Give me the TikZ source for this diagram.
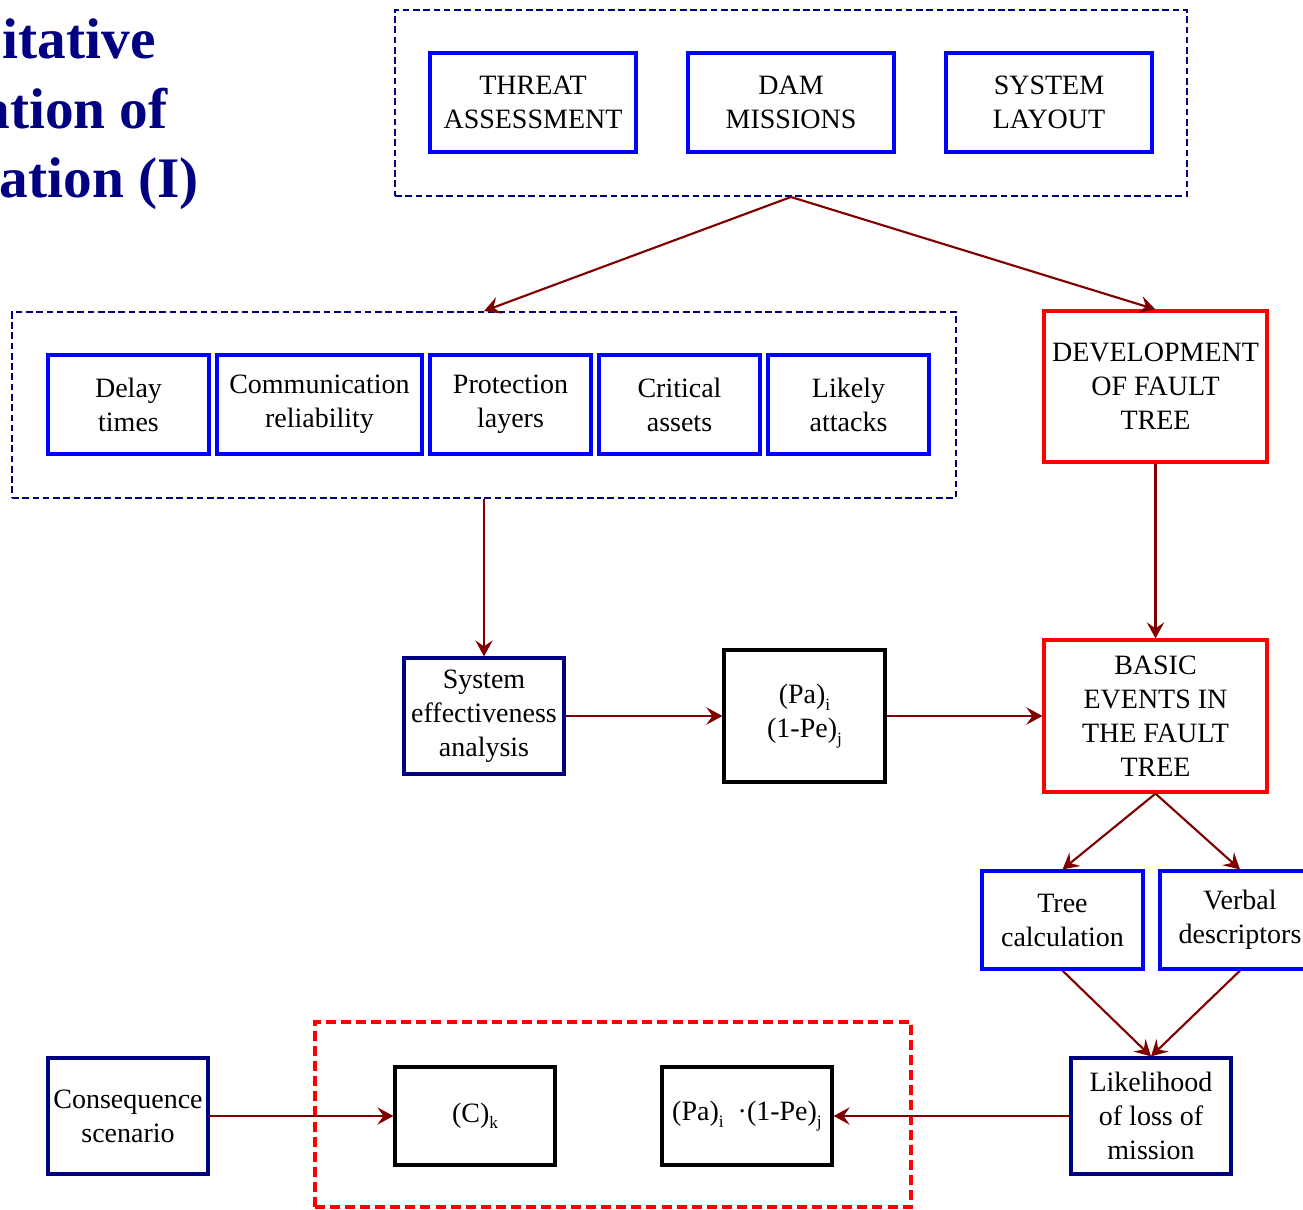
\documentclass[tikz,border=0pt]{standalone}
\usepackage{fontspec}
\setmainfont{Liberation Serif}
\usetikzlibrary{arrows.meta,fit}

\definecolor{navy}{RGB}{0,0,128}
\definecolor{boxblue}{RGB}{0,0,255}
\definecolor{boxred}{RGB}{255,0,0}
\definecolor{flowred}{RGB}{128,0,0}

% small lowered index after a bracket
\newcommand\idx[1]{\raisebox{-0.5ex}{\fontsize{13}{13}\selectfont #1}}

\tikzset{
  boxtext/.style={inner sep=0pt, align=center, font=\fontsize{21}{25.5}\selectfont},
  box/.style={inner sep=0pt, line width=2.4pt},
  bluebox/.style={box, draw=boxblue},
  navybox/.style={box, draw=navy},
  redbox/.style={box, draw=boxred},
  blackbox/.style={box, draw=black},
  txt/.style={label={[boxtext]center:{#1}}},
  navygroup/.style={inner sep=0pt, draw=navy, line width=1.5pt, dash pattern=on 5pt off 2.7pt},
  redgroup/.style={inner sep=0pt, draw=boxred, line width=2.5pt, dash pattern=on 7.5pt off 3.8pt},
  flow/.style={draw=flowred, line width=1.6pt, -{Stealth[length=12pt, width=13pt, inset=4.5pt]}},
  titletext/.style={inner sep=0pt, anchor=base east, text=navy, font=\fontsize{43}{50}\selectfont\bfseries}
}

\begin{document}
\begin{tikzpicture}[x=0.75pt, y=-0.75pt]
  \useasboundingbox (0,0) rectangle (1303,1210);
  \clip (0,0) rectangle (1303,1210);

  % heading, running off the left edge
  \node[titletext] (t1) at (156,58) {itative};
  \node[titletext] (t2) at (168,128) {ation of};
  \node[titletext] (t3) at (199,197) {ation (I)};

  % input group
  \node[navygroup, fit={(395,10) (1187,196)}] (topgrp) {};
  \node[bluebox, fit={(430,53) (636,152)}, txt={THREAT\\ASSESSMENT}] (threat) {};
  \node[bluebox, fit={(688,53) (894,152)}, txt={DAM\\MISSIONS}] (dam) {};
  \node[bluebox, fit={(946,53) (1152,152)}, txt={SYSTEM\\LAYOUT}] (layout) {};

  % security factors group
  \node[navygroup, fit={(12,312) (956,498)}] (midgrp) {};
  \node[bluebox, fit={(48,355) (209,454)}, txt={Delay\\times}] (delay) {};
  \node[bluebox, fit={(217,355) (422,454)}, txt={Communication\\reliability}] (comm) {};
  \node[bluebox, fit={(430,355) (591,454)}, txt={Protection\\layers}] (prot) {};
  \node[bluebox, fit={(599,355) (760,454)}, txt={Critical\\assets}] (crit) {};
  \node[bluebox, fit={(768,355) (929,454)}, txt={Likely\\attacks}] (likely) {};

  % fault tree branch
  \node[redbox, fit={(1044,311) (1267,462)}, txt={DEVELOPMENT\\OF FAULT\\TREE}] (devft) {};
  \node[redbox, fit={(1044,640) (1267,792)}, txt={BASIC\\EVENTS IN\\THE FAULT\\TREE}] (basic) {};

  % effectiveness analysis
  \node[navybox, fit={(404,658) (564,774)}, txt={System\\effectiveness\\analysis}] (sea) {};
  \node[blackbox, fit={(724,650) (885,782)}, txt={(Pa)\idx{i}\\(1-Pe)\idx{j}}] (pape) {};

  % evaluation of the tree
  \node[bluebox, fit={(982,871) (1143,969)}, txt={Tree\\calculation}] (treecalc) {};
  \node[bluebox, fit={(1160,871) (1320,969)}, txt={Verbal\\descriptors}] (verbal) {};
  \node[navybox, fit={(1071,1058) (1231,1174)}, txt={Likelihood\\of loss of\\mission}] (lik) {};

  % risk terms
  \node[navybox, fit={(48,1058) (208,1174)}, txt={Consequence\\scenario}] (cons) {};
  \node[redgroup, fit={(315,1022) (911,1207)}] (riskgrp) {};
  \node[blackbox, fit={(395,1067) (555,1165)}, txt={(C)\idx{k}}] (ck) {};
  \node[blackbox, fit={(662,1067) (832,1165)}, txt={(Pa)\idx{i}\ \ ·(1-Pe)\idx{j}}] (prod) {};

  % connectors
  \draw[flow] (topgrp.south) -- (midgrp.north);
  \draw[flow] (topgrp.south) -- (devft.north);
  \draw[flow] (devft.south) -- (basic.north);
  \draw[flow] (midgrp.south) -- (sea.north);
  \draw[flow] (sea.east) -- (pape.west);
  \draw[flow] (pape.east) -- (basic.west);
  \draw[flow] (basic.south) -- (treecalc.north);
  \draw[flow] (basic.south) -- (verbal.north);
  \draw[flow] (treecalc.south) -- (lik.north);
  \draw[flow] (verbal.south) -- (lik.north);
  \draw[flow] (lik.west) -- (prod.east);
  \draw[flow] (cons.east) -- (ck.west);
\end{tikzpicture}
\end{document}
